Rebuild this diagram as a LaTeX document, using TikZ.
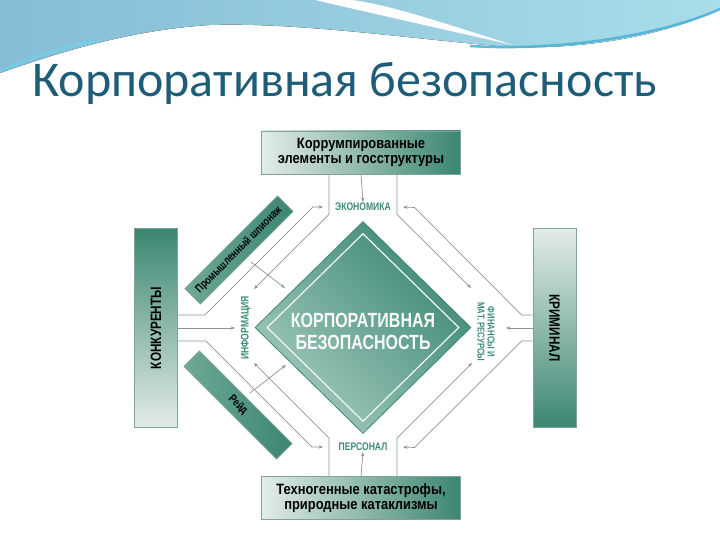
\documentclass[tikz,border=0pt]{standalone}
\usepackage{fontspec}
\usepackage{graphicx}
\setmainfont{Carlito}
\newfontfamily\cndA[FakeStretch=0.78]{Liberation Sans}
\newfontfamily\cndB[FakeStretch=0.86]{Liberation Sans}
\usetikzlibrary{arrows.meta,shapes.geometric,calc}
\definecolor{tdark}{HTML}{3B8671}
\definecolor{tlight}{HTML}{E3ECE8}
\definecolor{tmid}{HTML}{6FA897}
\definecolor{dmdark}{HTML}{3C8874}
\definecolor{dmlight}{HTML}{A3CABE}
\definecolor{labteal}{HTML}{3C8C77}
\definecolor{linegray}{HTML}{8A9692}
\definecolor{boxedge}{HTML}{7FA398}
\definecolor{titlecol}{HTML}{1E5D78}
\definecolor{wavL}{HTML}{86BCD6}
\definecolor{wavR}{HTML}{A8DDE9}
\definecolor{wavD}{HTML}{4FB3D7}
\definecolor{wavC}{HTML}{6ED4EA}
\tikzset{
  conn/.style={draw=linegray, line width=0.7pt},
  arr/.style={conn, -{Stealth[length=4.5pt,width=3.4pt]}},
  lbl/.style={font=\cndA\bfseries\fontsize{11}{11}\selectfont, text=labteal, inner sep=1pt},
  hbox/.style={minimum width=199pt, minimum height=43pt, inner sep=0pt, draw=boxedge, line width=0.7pt,
    align=center, left color=tlight, right color=tdark, font=\cndB\bfseries\fontsize{15}{15}\selectfont},
  sidebox/.style={minimum width=43pt, minimum height=199pt, inner sep=0pt, draw=boxedge, line width=0.7pt,
    font=\cndA\bfseries\fontsize{15}{15}\selectfont},
  slantbox/.style={minimum width=131pt, minimum height=22pt, inner sep=0pt, draw=boxedge, line width=0.6pt,
    font=\cndA\bfseries\fontsize{11.5}{12}\selectfont},
}
\begin{document}
\begin{tikzpicture}[x=1pt,y=-1pt]
\useasboundingbox (0,0) rectangle (720,540);
\fill[white] (0,0) rectangle (720,540);
% header wave
\fill[left color=wavL, right color=wavR] (0,0) -- (720,0) -- (720,8)
  .. controls (680,30) and (600,50) .. (510,47)
  .. controls (420,40) and (300,22) .. (210,25)
  .. controls (130,30) and (60,52) .. (0,73) -- cycle;
\draw[wavC, line width=4pt, opacity=0.55] (0,71) .. controls (30,58) and (60,47) .. (100,40);
\draw[wavD, line width=2.5pt, opacity=0.9] (470,46) .. controls (570,52) and (670,32) .. (720,9);
\fill[white] (315,0) .. controls (380,15) and (450,31) .. (513,45)
  .. controls (440,22) and (390,5) .. (352,0) -- cycle;
% title
\node[anchor=base west, font=\fontsize{50}{60}\selectfont, text=titlecol, inner sep=0pt] (title) at (32,97) {Корпоративная безопасность};

% boxes
\node[hbox] (top) at (361,152.5) {Коррумпированные\\элементы и госструктуры};
\node[hbox] (bot) at (361,498) {Техногенные катастрофы,\\природные катаклизмы};
\node[sidebox, top color=tdark, bottom color=tlight] (konk) at (156,328) {\rotatebox{90}{КОНКУРЕНТЫ}};
\node[sidebox, top color=tlight, bottom color=tdark] (krim) at (554.5,328) {\rotatebox{-90}{КРИМИНАЛ}};
\node[slantbox, rotate=45, left color=tmid, right color=tdark] (spy) at (239,250) {Промышленный шпионаж};
\node[slantbox, rotate=-45, left color=tmid, right color=tdark] (raid) at (238,405) {Рейд};

% diamond
\node[diamond, minimum width=216pt, minimum height=212pt, inner sep=0pt, draw=dmdark, line width=0.8pt,
  top color=dmlight, bottom color=dmdark, shading angle=135] (diam) at (363,327.5) {};
\node[diamond, minimum width=192pt, minimum height=188pt, inner sep=0pt, draw=white!85!dmlight, line width=1.2pt] (dinner) at (363,327.5) {};
\node[font=\cndA\bfseries\fontsize{20.5}{22}\selectfont, text=white!92!dmlight, align=center] (ks) at (363,331.5) {КОРПОРАТИВНАЯ\\БЕЗОПАСНОСТЬ};

% labels
\node[lbl] (econ) at (363,207) {ЭКОНОМИКА};
\node[lbl] (pers) at (363,447) {ПЕРСОНАЛ};
\node[lbl, rotate=90] (info) at (246,328) {ИНФОРМАЦИЯ};
\node[lbl, rotate=-90, align=center, font=\cndA\bfseries\fontsize{10}{10}\selectfont] (fin) at (486,332) {ФИНАНСЫ И\\МАТ. РЕСУРСЫ};

% arrow end points
\coordinate (eL) at (323,207);
\coordinate (eR) at (403,207);
\coordinate (pL) at (323,447);
\coordinate (pR) at (403,447);
\coordinate (iT) at (254,289);
\coordinate (iB) at (254,363);
\coordinate (iM) at (235,328);
\coordinate (fT) at (471,288);
\coordinate (fB) at (472,363);
\coordinate (fM) at (506,328);
\coordinate (spyE) at (285,288);
\coordinate (raidE) at (286,365);

% connectors
\draw[arr] (top.south) -- (econ.north);
\draw[arr] ([xshift=-32pt]top.south) -- ++(0,40) -- (iT);
\draw[arr] ([xshift=36pt]top.south) -- ++(0,40) -- (fT);
\draw[arr] (bot.north) -- (pers.south);
\draw[arr] ([xshift=-32pt]bot.north) -- ++(0,-38) -- (iB);
\draw[arr] ([xshift=36pt]bot.north) -- ++(0,-38) -- (fB);
\draw[arr] ([yshift=13pt]konk.east) -- ++(27,0) -- ++(108,-108) -- (eL);
\draw[arr] (konk.east) -- (iM);
\draw[arr] ([yshift=-13pt]konk.east) -- ++(28,0) -- ++(106,106) -- (pL);
\draw[arr] ([yshift=13pt]krim.west) -- ++(-11,0) -- ++(-107,-107.5) -- (eR);
\draw[arr] (krim.west) -- (fM);
\draw[arr] ([yshift=-13pt]krim.west) -- ++(-11,0) -- ++(-107,106.5) -- (pR);
\draw[arr] ([shift={(4pt,-4pt)}]spy.south) -- (spyE);
\draw[arr] ([shift={(4pt,4pt)}]raid.north) -- (raidE);
\end{tikzpicture}
\end{document}
